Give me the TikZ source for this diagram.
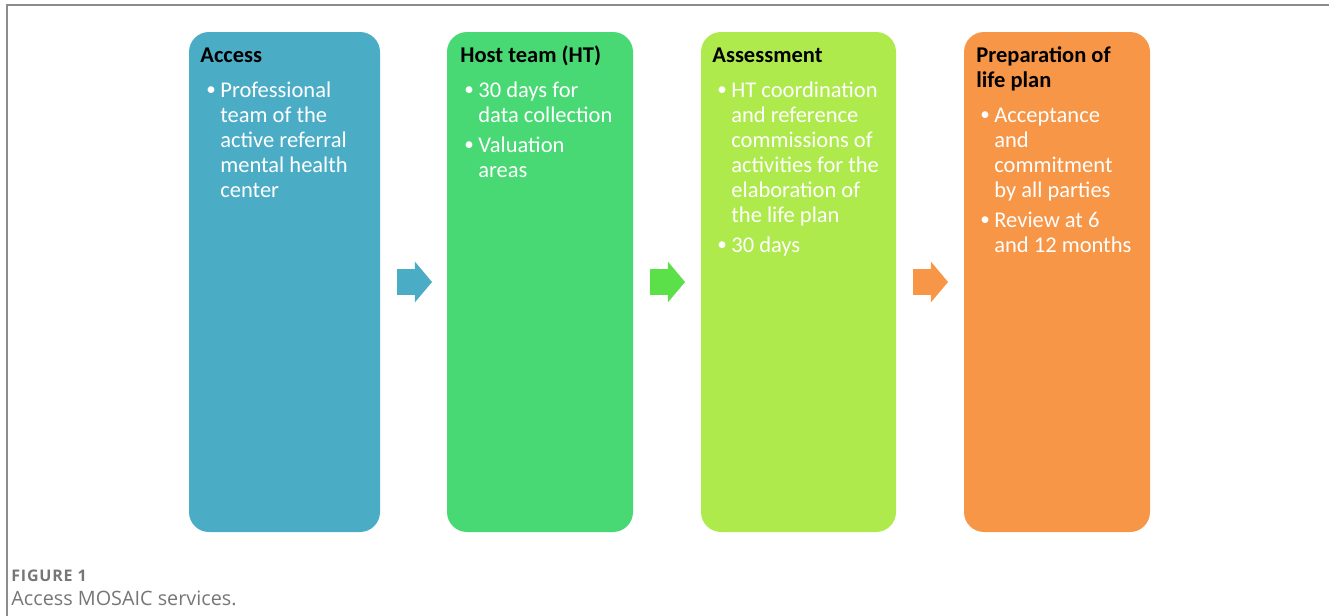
\documentclass[tikz,border=0pt]{standalone}
\usepackage{fontspec}
\setmainfont{Carlito}
\newfontfamily\capfont{Open Sans}
\usepackage{tikz}
\usetikzlibrary{positioning, shapes.arrows}
\definecolor{accessblue}{HTML}{4BACC6}
\definecolor{hostgreen}{HTML}{48D874}
\definecolor{assesslime}{HTML}{AEEA4B}
\definecolor{planorange}{HTML}{F79646}
\definecolor{arrowgreen}{HTML}{5BE04A}
\definecolor{framegray}{HTML}{8C8C8C}
\definecolor{capgray}{HTML}{767676}
\tikzstyle{stage} = [rectangle, rounded corners=10pt, draw=none, inner sep=0pt, outer sep=0pt,
                     minimum height=250pt]

% bullet list set as a top-aligned table
\newcommand{\blist}[1]{\begin{tabular}[t]{@{}p{7pt}@{}l@{}}#1\end{tabular}}
\newcommand{\bpt}{\raisebox{0.1ex}{\scalebox{0.85}{\textbullet}}}

\begin{document}
\begin{tikzpicture}[x=0.5pt, y=-0.5pt]
                    \tikzstyle{every node}=[font=\fontsize{11.25}{12.5}\selectfont]
                    \tikzstyle{title} = [anchor=base west, inner sep=0pt, text=black, font=\fontsize{11.25}{12.5}\selectfont\bfseries]
                    \tikzstyle{body} = [anchor=base west, inner sep=0pt, text=white]
                    \tikzstyle{step arrow} = [single arrow, draw=none, inner xsep=0pt, inner ysep=6.25pt, outer sep=0pt,
                                              minimum height=17.5pt, minimum width=0pt,
                                              single arrow head extend=3.75pt, single arrow tip angle=100]

                    \useasboundingbox (0,0) rectangle (1329,616);
                    \draw[framegray, line width=0.75pt] (7,616) -- (7,5) -- (1329,5);

                    % the four stages
                    \node[stage, fill=accessblue, minimum width=95.5pt](s1) at (284.5,282) {};
                    \node[stage, fill=hostgreen, minimum width=93pt](s2) at (540,282) {};
                    \node[stage, fill=assesslime, minimum width=97.5pt](s3) at (798.5,282) {};
                    \node[stage, fill=planorange, minimum width=93pt](s4) at (1057,282) {};

                    \node[step arrow, fill=accessblue, right=8.5pt of s1](a1) {};
                    \node[step arrow, fill=arrowgreen, right=8.5pt of s2](a2) {};
                    \node[step arrow, fill=planorange, right=8.5pt of s3](a3) {};

                    \node[title](t1) at (200,62) {Access};
                    \node[title](t2) at (460,62) {Host team (HT)};
                    \node[title](t3) at (712,62) {Assessment};
                    \node[title](t4) at (976,62) {\begin{tabular}[t]{@{}l@{}}Preparation of\\life plan\end{tabular}};

                    \node[body](b1) at (206,97) {\blist{\bpt & Professional\\ & team of the\\ & active referral\\ & mental health\\ & center}};
                    \node[body](b2) at (464,97) {\blist{\bpt & 30 days for\\ & data collection\\[2.5pt] \bpt & Valuation\\ & areas}};
                    \node[body](b3) at (717,97) {\blist{\bpt & HT coordination\\ & and reference\\ & commissions of\\ & activities for the\\ & elaboration of\\ & the life plan\\[2.5pt] \bpt & 30 days}};
                    \node[body](b4) at (980,122) {\blist{\bpt & Acceptance\\ & and\\ & commitment\\ & by all parties\\[2.5pt] \bpt & Review at 6\\ & and 12 months}};

                    % caption
                    \node[anchor=base west, inner sep=0pt, text=capgray, font=\capfont\bfseries\fontsize{8}{9}\selectfont\addfontfeature{LetterSpace=5}](fig) at (11,581) {FIGURE 1};
                    \node[anchor=base west, inner sep=0pt, text=capgray, font=\capfont\fontsize{9.9}{11}\selectfont](cap) at (11,605) {Access MOSAIC services.};
            \end{tikzpicture}
\end{document}
